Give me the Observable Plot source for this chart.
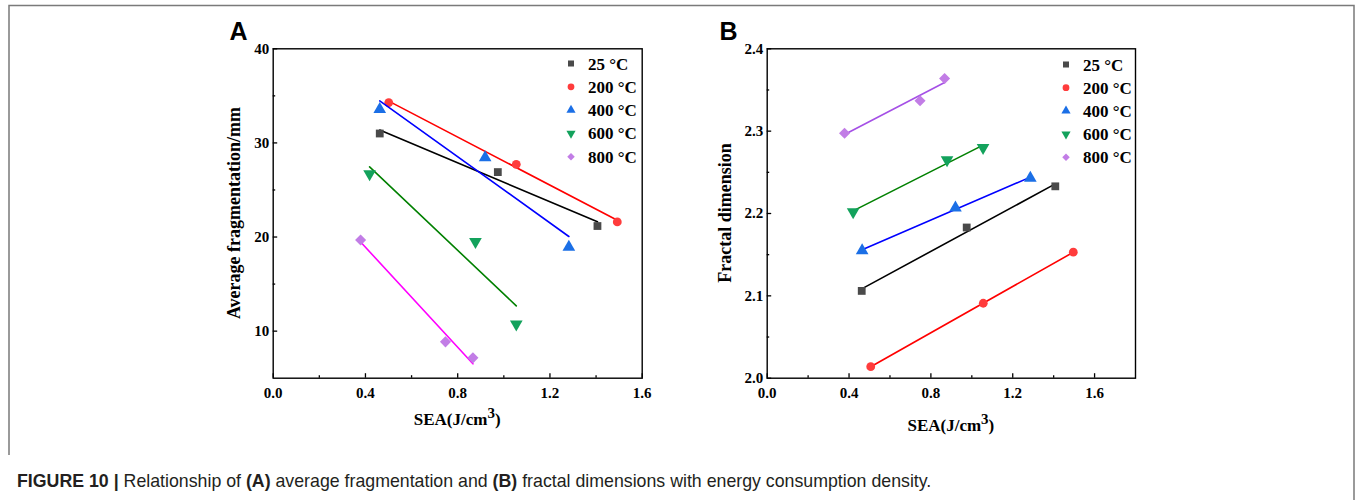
<!DOCTYPE html>
<html>
<head>
<meta charset="utf-8">
<script src="https://cdn.jsdelivr.net/npm/d3@7"></script>
<script src="https://cdn.jsdelivr.net/npm/@observablehq/plot@0.6"></script>
<style>
  html, body { margin: 0; padding: 0; background: #fff; }
  #root { position: relative; width: 1357px; height: 500px; overflow: hidden; }
  .panel { position: absolute; top: 0; }
  #overlay { position: absolute; left: 0; top: 0; }
  #caption { position: absolute; left: 17px; top: 471px; font-family: "Liberation Sans", Arial, sans-serif; font-size: 17.75px; line-height: 20px; color: #231f20; white-space: nowrap; }
</style>
</head>
<body>
<div id="root">
  <svg id="overlay" width="1357" height="500"></svg>
  <div id="caption"><b>FIGURE 10 | </b>Relationship of <b>(A)</b> average fragmentation and <b>(B)</b> fractal dimensions with energy consumption density.</div>
</div>
<script>
// ---- data ----
const temps = ["25 °C", "200 °C", "400 °C", "600 °C", "800 °C"];
// Panel A: SEA (J/cm3) vs average fragmentation (mm)
const seaA = [
  [0.462, 0.974, 1.406],
  [0.501, 1.054, 1.492],
  [0.462, 0.919, 1.282],
  [0.418, 0.877, 1.054],
  [0.379, 0.747, 0.866]
];
const fragmentation = [
  [31.0, 26.9, 21.17],
  [34.29, 27.72, 21.6],
  [33.58, 28.44, 18.94],
  [26.7, 19.5, 10.74],
  [19.68, 8.86, 7.16]
];
// Panel B: SEA (J/cm3) vs fractal dimension
const seaB = [
  [0.462, 0.975, 1.408],
  [0.506, 1.056, 1.496],
  [0.464, 0.920, 1.286],
  [0.420, 0.879, 1.055],
  [0.378, 0.747, 0.867]
];
const fractal = [
  [2.106, 2.183, 2.233],
  [2.014, 2.091, 2.153],
  [2.155, 2.207, 2.243],
  [2.202, 2.265, 2.280],
  [2.2975, 2.337, 2.364]
];
const xTicksA = [0, 0.4, 0.8, 1.2, 1.6];
const xMinorA = [0.2, 0.6, 1.0, 1.4];
const yTicksA = [10, 20, 30, 40];
const yMinorA = [15, 25, 35];
const xTicksB = [0, 0.4, 0.8, 1.2, 1.6];
const xMinorB = [0.2, 0.6, 1.0, 1.4];
const yTicksB = [2.0, 2.1, 2.2, 2.3, 2.4];
const yMinorB = [2.05, 2.15, 2.25, 2.35];

// ---- styles ----
const symbols = ["square", "circle", "triangle", "triangle", "diamond2"];
const d3symbols = [d3.symbolSquare, d3.symbolCircle, d3.symbolTriangle, d3.symbolTriangle, d3.symbolDiamond2];
const radii = [4.4, 4.4, 4.7, 4.7, 5.0];
const rotates = [0, 0, 0, 180, 0];
const fills = ["#4a4a4a", "#ff3c3c", "#1b6fe6", "#13a25c", "#c27de6"];
const linesA = ["#000000", "#ff0000", "#0000ff", "#008000", "#ff00ff"];
const linesB = ["#000000", "#ff0000", "#0000ff", "#008000", "#a550e6"];
const SERIF = "'Liberation Serif', 'Times New Roman', serif";

function panel(cfg) {
  const W = 480, H = 440;
  const innerW = W - cfg.ml - cfg.mr, innerH = H - cfg.mt - cfg.mb;
  const marks = [];
  temps.forEach((t, i) => {
    const rows = cfg.xs[i].map((x, j) => ({x, y: cfg.ys[i][j]}));
    marks.push(Plot.linearRegressionY(rows, {x: "x", y: "y", stroke: cfg.lines[i], strokeWidth: 1.6, ci: 0}));
    marks.push(Plot.dot(rows, {x: "x", y: "y", symbol: () => symbols[i], fill: fills[i], r: radii[i], rotate: rotates[i], stroke: "none"}));
  });
  marks.push(
    Plot.tickX(cfg.xTicks, {x: d => d, insetTop: innerH - 4.5, stroke: "black", strokeWidth: 1.3}),
    Plot.tickX(cfg.xMinor, {x: d => d, insetTop: innerH - 2.5, stroke: "black", strokeWidth: 1.3}),
    Plot.tickY(cfg.yTicks, {y: d => d, insetRight: innerW - 4.5, stroke: "black", strokeWidth: 1.3}),
    Plot.tickY(cfg.yMinor, {y: d => d, insetRight: innerW - 2.5, stroke: "black", strokeWidth: 1.3}),
    Plot.axisX(cfg.xTicks, {tickSize: 0, tickPadding: 9, tickFormat: d => d.toFixed(1), label: null}),
    Plot.axisY(cfg.yTicks, {tickSize: 0, tickPadding: 4, tickFormat: cfg.yFormat, label: null}),
    Plot.frame({stroke: "black", strokeWidth: 1.4})
  );
  const svg = Plot.plot({
    width: W, height: H,
    marginLeft: cfg.ml, marginRight: cfg.mr, marginTop: cfg.mt, marginBottom: cfg.mb,
    x: {domain: cfg.xDomain},
    y: {domain: cfg.yDomain},
    style: {fontFamily: SERIF, fontSize: "15px", fontWeight: "bold", color: "black", background: "transparent", overflow: "visible"},
    marks
  });
  const s = d3.select(svg);
  // y label
  s.append("text")
    .attr("transform", `translate(${cfg.ylx},${cfg.mt + innerH / 2}) rotate(-90)`)
    .attr("text-anchor", "middle")
    .attr("font-family", SERIF).attr("font-weight", "bold").attr("font-size", 18)
    .attr("fill", "black")
    .text(cfg.yLabel);
  // x label with superscript
  const xl = s.append("text")
    .attr("x", cfg.ml + innerW / 2).attr("y", cfg.xly)
    .attr("text-anchor", "middle")
    .attr("font-family", SERIF).attr("font-weight", "bold").attr("font-size", 17)
    .attr("fill", "black");
  xl.append("tspan").text("SEA(J/cm");
  xl.append("tspan").attr("dy", -7).attr("font-size", 15).text("3");
  xl.append("tspan").attr("dy", 7).text(")");
  // legend
  const lg = s.append("g");
  temps.forEach((t, i) => {
    const cy = cfg.legY + cfg.legStep * i;
    lg.append("path")
      .attr("d", d3.symbol(d3symbols[i], Math.PI * 3.4 * 3.4)())
      .attr("transform", `translate(${cfg.legX},${cy}) rotate(${rotates[i]})`)
      .attr("fill", fills[i]);
    lg.append("text")
      .attr("x", cfg.legX + 17).attr("y", cy + 6)
      .attr("text-anchor", "start")
      .attr("font-family", SERIF).attr("font-weight", "bold").attr("font-size", 17)
      .attr("fill", "black")
      .text(t);
  });
  return svg;
}

const root = document.getElementById("root");
const a = panel({
  xs: seaA, ys: fragmentation, lines: linesA,
  xDomain: [0, 1.6], yDomain: [5, 40],
  xTicks: xTicksA, xMinor: xMinorA, yTicks: yTicksA, yMinor: yMinorA,
  yFormat: d => String(d),
  ml: 72.7, mr: 38.3, mt: 48.3, mb: 62.3,
  ylx: 40, xly: 425, yLabel: "Average fragmentation/mm",
  legX: 371, legY: 63.5, legStep: 23.3
});
a.classList.add("panel"); a.style.left = "200px";
root.appendChild(a);

const b = panel({
  xs: seaB, ys: fractal, lines: linesB,
  xDomain: [0, 1.8], yDomain: [2.0, 2.4],
  xTicks: xTicksB, xMinor: xMinorB, yTicks: yTicksB, yMinor: yMinorB,
  yFormat: d => d.toFixed(1),
  ml: 76.7, mr: 35, mt: 48.3, mb: 62.3,
  ylx: 40.5, xly: 431, yLabel: "Fractal dimension",
  legX: 376, legY: 64.5, legStep: 23.2
});
b.classList.add("panel"); b.style.left = "690px";
root.appendChild(b);

// overlay: figure border and panel letters
const ov = d3.select("#overlay");
ov.append("path").attr("d", "M9,455 L9,5.5 L1354,5.5 L1354,500")
  .attr("fill", "none").attr("stroke", "#7a7a7a").attr("stroke-width", 1.5);
ov.append("text").attr("x", 229.5).attr("y", 40).attr("font-family", "'Liberation Sans', Arial, sans-serif")
  .attr("font-weight", "bold").attr("font-size", 25).text("A");
ov.append("text").attr("x", 719.5).attr("y", 40).attr("font-family", "'Liberation Sans', Arial, sans-serif")
  .attr("font-weight", "bold").attr("font-size", 25).text("B");
</script>
</body>
</html>
